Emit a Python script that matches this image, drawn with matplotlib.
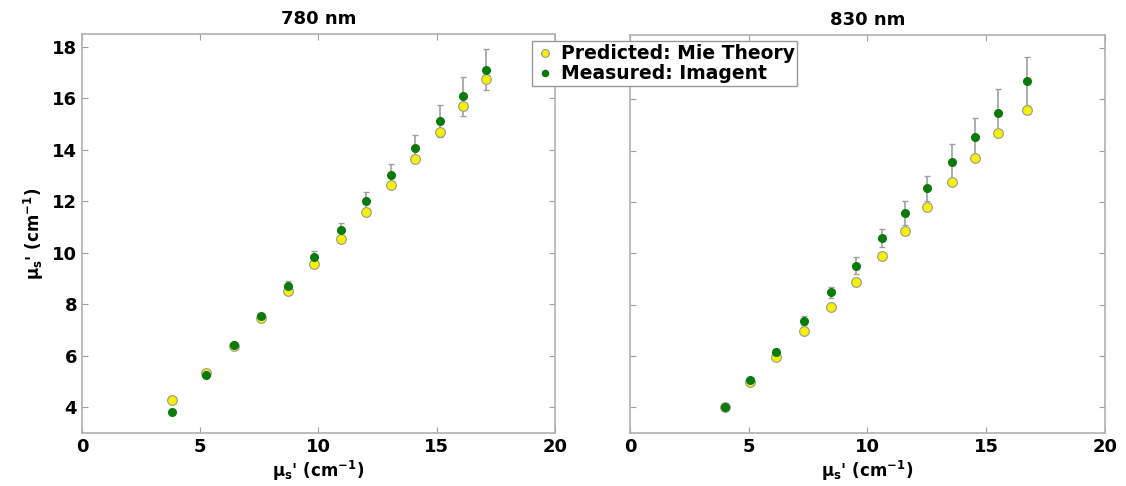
import matplotlib
matplotlib.use("Agg")
import matplotlib.pyplot as plt

plt.rcParams['mathtext.default'] = 'regular'
plt.rcParams['font.weight'] = 'bold'

# 780 nm
x780 = [3.8, 5.25, 6.45, 7.55, 8.7, 9.8, 10.95, 12.0, 13.05, 14.1, 15.15, 16.1, 17.1]
pred780 = [4.3, 5.35, 6.4, 7.45, 8.5, 9.55, 10.55, 11.6, 12.65, 13.65, 14.7, 15.7, 16.75]
meas780 = [3.8, 5.25, 6.42, 7.55, 8.72, 9.83, 10.88, 12.0, 13.02, 14.08, 15.12, 16.08, 17.12]
err780 = [0.03, 0.04, 0.05, 0.08, 0.17, 0.23, 0.29, 0.38, 0.43, 0.49, 0.61, 0.75, 0.81]

# 830 nm
x830 = [3.99, 5.04, 6.15, 7.33, 8.48, 9.5, 10.62, 11.56, 12.52, 13.56, 14.52, 15.48, 16.71]
pred830 = [4.0, 5.0, 5.96, 6.96, 7.92, 8.9, 9.89, 10.85, 11.81, 12.76, 13.71, 14.68, 15.59]
meas830 = [4.0, 5.07, 6.17, 7.37, 8.48, 9.52, 10.59, 11.56, 12.53, 13.55, 14.52, 15.47, 16.70]
err830 = [0.03, 0.05, 0.1, 0.17, 0.21, 0.34, 0.35, 0.46, 0.49, 0.69, 0.73, 0.91, 0.95]

yellow = '#f5f000'
green = '#0a7a0a'
grey = '#a0a0a0'

fig = plt.figure(figsize=(11.26, 4.86), dpi=100)
ax1 = fig.add_axes([0.0728, 0.109, 0.42, 0.821])
ax2 = fig.add_axes([0.5595, 0.109, 0.4218, 0.819])

panels = [(ax1, x780, pred780, meas780, err780, '780 nm'),
          (ax2, x830, pred830, meas830, err830, '830 nm')]

for ax, x, pred, meas, err, title in panels:
    ax.errorbar(x, meas, yerr=err, fmt='none', ecolor=grey, elinewidth=1.2,
                capsize=2.5, capthick=1, zorder=1)
    hp, = ax.plot(x, pred, 'o', ms=7, mfc=yellow, mec='#999999', mew=0.8,
                  linestyle='none', zorder=2)
    hm, = ax.plot(x, meas, 'o', ms=5.5, mfc=green, mec=green,
                  linestyle='none', zorder=3)
    ax.set_xlim(0, 20)
    ax.set_ylim(3, 18.5)
    ax.set_xticks([0, 5, 10, 15, 20])
    ax.set_yticks([4, 6, 8, 10, 12, 14, 16, 18])
    ax.tick_params(direction='in', top=True, right=True, color=grey,
                   labelsize=13, length=4)
    for lbl in ax.get_xticklabels() + ax.get_yticklabels():
        lbl.set_fontweight('bold')
    for s in ax.spines.values():
        s.set_color('#b0b0b0')
        s.set_linewidth(1.2)
    ax.set_title(title, fontsize=13, fontweight='bold', pad=7)
    ax.set_xlabel("μ$_s$' (cm$^{-1}$)", fontsize=12, fontweight='bold', labelpad=2)

ax1.set_ylabel("μ$_s$' (cm$^{-1}$)", fontsize=12, fontweight='bold', labelpad=4)
ax2.tick_params(labelleft=False)

leg = fig.legend([hp, hm], ['Predicted: Mie Theory', 'Measured: Imagent'],
                 loc='upper left', bbox_to_anchor=(0.4645, 0.934),
                 prop={'weight': 'bold', 'size': 13.5}, handlelength=1.0,
                 handletextpad=0.35, borderpad=0.15, labelspacing=0.05,
                 fancybox=False, framealpha=1, markerscale=0.8)
leg.get_frame().set_edgecolor('#999999')
leg.get_frame().set_linewidth(1.0)

fig.savefig('out.png', dpi=100)
